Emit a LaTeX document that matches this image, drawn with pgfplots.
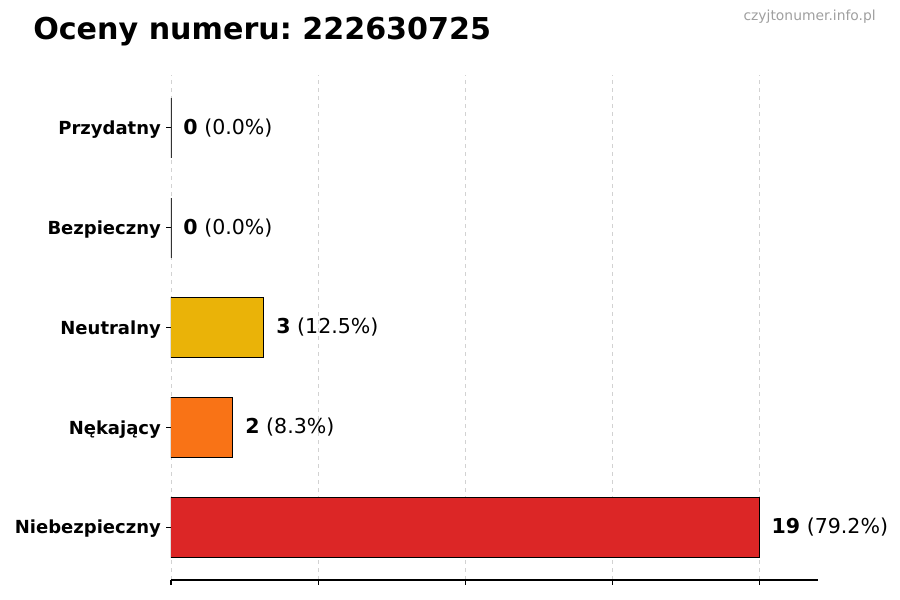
\documentclass[border=0pt]{standalone}
\usepackage{fontspec}
\setmainfont{DejaVu Sans}
\usepackage{pgfplots}
\pgfplotsset{compat=1.18}
\frenchspacing

\definecolor{cred}{HTML}{DC2626}
\definecolor{corange}{HTML}{F97316}
\definecolor{cyellow}{HTML}{EAB308}
\definecolor{cgreen}{HTML}{22C55E}
\definecolor{cdgreen}{HTML}{16A34A}

\begin{document}
\begin{tikzpicture}
\useasboundingbox (0,0) rectangle (675pt,450pt);

\node[anchor=base west, inner sep=0, font=\bfseries\fontsize{22.6}{26}\selectfont] at (24.75pt,420pt) {Oceny numeru: 222630725};
\node[anchor=base east, inner sep=0, text=gray!75, font=\fontsize{10.4}{12}\selectfont] at (657pt,434.25pt) {czyjtonumer.info.pl};

\begin{axis}[
    at={(128.25pt,15pt)}, anchor=south west,
    scale only axis,
    width=485.25pt, height=378.75pt,
    xbar, bar shift=0pt, bar width=0.6,
    xmin=0, xmax=20.9,
    ymin=-0.53, ymax=4.53,
    axis x line*=bottom, axis y line*=left,
    y axis line style={draw=none},
    x axis line style={line width=0.8pt},
    xtick={0,4.75,9.5,14.25,19}, xticklabels={},
    ytick={0,1,2,3,4},
    yticklabels={Niebezpieczny,Nękający,Neutralny,Bezpieczny,Przydatny},
    yticklabel style={font=\bfseries\fontsize{13.5}{16}\selectfont, inner sep=0pt, xshift=-3.7pt, yshift=-1.5pt},
    tick align=outside, major tick length=3.7pt,
    every tick/.style={black, line width=0.8pt},
    xmajorgrids, grid style={dashed, gray!35, line width=0.6pt},
    every axis plot/.append style={draw=black, line width=0.75pt},
    nodes near coords style={anchor=west, inner sep=0pt, xshift=9pt, font=\fontsize{15.4}{18}\selectfont, text=black},
]
\addplot[fill=cred, nodes near coords={\textbf{19} (79.2\%)}] coordinates {(19,0)};
\addplot[fill=corange, nodes near coords={\textbf{2} (8.3\%)}] coordinates {(2,1)};
\addplot[fill=cyellow, nodes near coords={\textbf{3} (12.5\%)}] coordinates {(3,2)};
\addplot[fill=cgreen, nodes near coords={\textbf{0} (0.0\%)}] coordinates {(0,3)};
\addplot[fill=cdgreen, nodes near coords={\textbf{0} (0.0\%)}] coordinates {(0,4)};
% edges of the two zero-length bars
\addplot[sharp plot, draw=black!80, line width=0.9pt, forget plot] coordinates {(0,2.7) (0,3.3)};
\addplot[sharp plot, draw=black!80, line width=0.9pt, forget plot] coordinates {(0,3.7) (0,4.3)};
\end{axis}
\end{tikzpicture}
\end{document}
